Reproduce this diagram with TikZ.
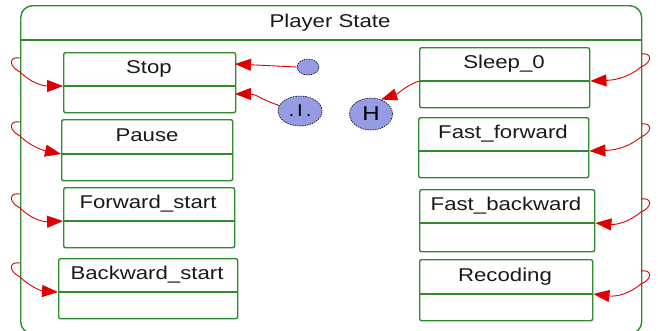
\documentclass[tikz,border=0pt]{standalone}
\usepackage{fontspec}
\setmainfont{Liberation Sans}[FakeStretch=1.2]
\usetikzlibrary{shapes.geometric,arrows.meta}
\definecolor{grn}{RGB}{46,139,46}
\definecolor{rd}{RGB}{222,0,0}
\definecolor{lav}{RGB}{150,156,228}
\tikzset{
  box/.style={draw=grn, line width=1.4pt, rounded corners=2pt, inner sep=0pt, anchor=north west},
  divl/.style={draw=grn, line width=1.4pt},
  lbl/.style={font=\fontsize{18.5}{20}\selectfont, text=black!90, inner sep=0pt, anchor=base},
  tr/.style={draw=rd, line width=0.9pt, -{Triangle[length=16pt,width=12pt]}},
  pseudo/.style={ellipse, draw=black, dash pattern=on 1.5pt off 1pt, line width=0.6pt, fill=lav, inner sep=0pt}
}
\newcommand{\stbox}[9]{% name, x1, y1, w, h, ydiv-y1, text, cx, ybase
  \node[box, minimum width=#4pt, minimum height=#5pt] (#1) at (#2,#3) {};
  \draw[divl] ([yshift=-#6pt]#1.north west) coordinate (#1-dl) -- ([yshift=-#6pt]#1.north east) coordinate (#1-dr);
  \node[lbl] (#1-t) at (#8,#9) {#7};
}
\begin{document}
\begin{tikzpicture}[x=1pt,y=-1pt]
\useasboundingbox (0,0) rectangle (658,330);
% outer composite state
\node[draw=grn, line width=1.4pt, rounded corners=12pt, minimum width=621pt, minimum height=328pt, inner sep=0pt, anchor=north west] (outer) at (20,5) {};
\draw[divl] ([yshift=-35pt]outer.north west) coordinate (hl) -- ([yshift=-35pt]outer.north east) coordinate (hr);
\node[lbl] (title) at (330,27) {Player State};
% states
\stbox{stop}{63}{52}{172}{60}{34}{Stop}{149}{73}
\stbox{pause}{61}{119}{171}{61}{35}{Pause}{147}{141}
\stbox{fwd}{63}{187}{171}{60}{34}{Forward\_start}{148}{208}
\stbox{bwd}{58}{258}{179}{60}{34}{Backward\_start}{147}{279}
\stbox{sleep}{419}{47}{170}{60}{34}{Sleep\_0}{504}{68}
\stbox{ff}{418}{117}{170}{60}{34}{Fast\_forward}{503}{138}
\stbox{fb}{419}{189}{175}{62}{34}{Fast\_backward}{506}{210}
\stbox{rec}{419}{259}{173}{61}{35}{Recoding}{505}{281}
% pseudo states
\node[pseudo, minimum width=22pt, minimum height=16pt] (init) at (308,67) {};
\node[pseudo, minimum width=44pt, minimum height=30pt, font=\fontsize{17}{17}\selectfont] (inode) at (300,111) {.\kern3pt I\kern3pt.};
\node[pseudo, minimum width=43pt, minimum height=32pt, font=\fontsize{20}{20}\selectfont] (hnode) at (371,114) {H};
% transitions
\coordinate (stopin1) at (235,64);
\coordinate (stopin2) at (235,94);
\draw[tr] (init.west) -- (stopin1);
\draw[tr] (inode.165) .. controls (262,100) and (256,94) .. (stopin2);
\draw[tr] (sleep-dl) .. controls (405,86) and (398,94) .. (hnode.55);
% left boundary loops
\foreach \b/\yl in {stop/62, pause/126, fwd/198, bwd/267}{
  \coordinate (\b-ls) at (20,\yl-4);
  \draw[tr] (\b-ls) .. controls (9,\yl-6) and (8,\yl+4) .. (20,\yl+10)
     .. controls (30,\yl+20) and (42,\yl+24) .. (\b-dl);
}
% right boundary loops
\foreach \b/\yl in {sleep/58, ff/128, fb/203, rec/275}{
  \coordinate (\b-rs) at (641,\yl-4);
  \draw[tr] (\b-rs) .. controls (652,\yl-6) and (653,\yl+4) .. (641,\yl+9)
     .. controls (630,\yl+18) and (618,\yl+22) .. (\b-dr);
}
\end{tikzpicture}
\end{document}
